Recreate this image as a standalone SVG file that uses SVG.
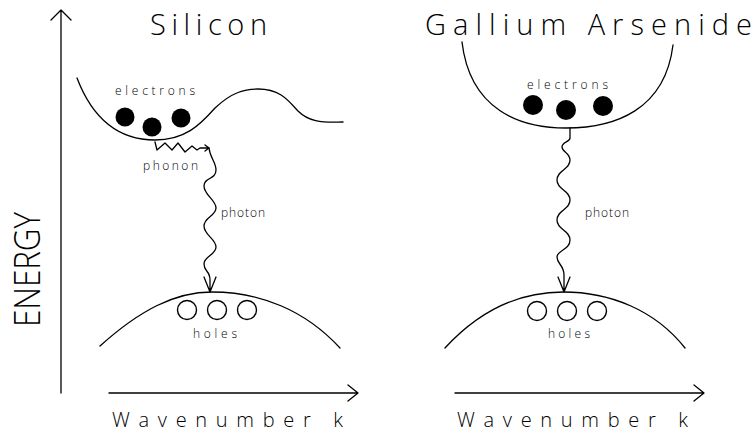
<svg xmlns="http://www.w3.org/2000/svg" width="753" height="435" viewBox="0 0 753 435">
<defs>
<style>
.ln{fill:none;stroke:#000;stroke-width:1.3;stroke-linecap:round;stroke-linejoin:round}
.e{fill:#000}
.h{fill:none;stroke:#000;stroke-width:1.4}
.t{font-family:"Open Sans","DejaVu Sans","Liberation Sans",sans-serif;font-weight:300;fill:#000}
.big{font-size:29px}
.axl{font-size:20px}
.sm{font-size:12px}
</style>
</defs>
<rect width="753" height="435" fill="#fff"/>
<g id="axes">
<g id="energy-axis">
<path class="ln" d="M61,393 L61,10 M51,20 L61,10 L71,20"/>
<text class="t" transform="translate(40,327) rotate(-90)" font-size="36" textLength="115" lengthAdjust="spacingAndGlyphs">ENERGY</text>
</g>
<g id="k-axis-si">
<path class="ln" d="M109,393 L358,393 M348,385 L358,393 L348,401"/>
<text class="t axl" x="112" y="427" textLength="231" lengthAdjust="spacing">Wavenumber k</text>
</g>
<g id="k-axis-gaas">
<path class="ln" d="M455,393 L704,393 M694,385 L704,393 L694,401"/>
<text class="t axl" x="457" y="427" textLength="231" lengthAdjust="spacing">Wavenumber k</text>
</g>
</g>
<g id="title-si"><text class="t big" x="150" y="35" textLength="117" lengthAdjust="spacing">Silicon</text></g>
<g id="title-gaas"><text class="t big" x="425" y="35" textLength="327" lengthAdjust="spacing">Gallium Arsenide</text></g>
<g id="si-conduction">
<path class="ln" d="M77,78 C95,125 125,140 155,140 C185,140 200,125 215,108 C232,92 245,89 258,89 C280,89 288,100 298,111 C308,121 320,123 343,122"/>
<circle class="e" cx="125" cy="117" r="9.5"/>
<circle class="e" cx="152" cy="127" r="9.5"/>
<circle class="e" cx="181" cy="118" r="9.5"/>
<text class="t sm" x="115" y="95" textLength="80" lengthAdjust="spacing">electrons</text>
</g>
<g id="si-valence">
<path class="ln" d="M100,346 C140,310 175,292 212,292 C260,292 305,310 340,348"/>
<circle class="h" cx="187" cy="310" r="9.5"/>
<circle class="h" cx="217" cy="310" r="9.5"/>
<circle class="h" cx="247" cy="310" r="9.5"/>
<text class="t sm" x="193" y="338" textLength="44" lengthAdjust="spacing">holes</text>
</g>
<g id="gaas-conduction">
<path class="ln" d="M462,42 C470,110 520,128 566,128 C615,128 665,110 673,45"/>
<circle class="e" cx="533" cy="105" r="10"/>
<circle class="e" cx="566" cy="110" r="10"/>
<circle class="e" cx="603" cy="106" r="10"/>
<text class="t sm" x="527" y="89" textLength="81" lengthAdjust="spacing">electrons</text>
</g>
<g id="gaas-valence">
<path class="ln" d="M445,348 C480,310 520,292 563,292 C610,292 655,310 685,348"/>
<circle class="h" cx="537" cy="311" r="9.5"/>
<circle class="h" cx="567" cy="311" r="9.5"/>
<circle class="h" cx="597" cy="311" r="9.5"/>
<text class="t sm" x="548" y="338" textLength="42" lengthAdjust="spacing">holes</text>
</g>
<g id="connectors">
<g id="phonon">
<path class="ln" d="M155,142 L157,150 L165,143 L172,150 L178,143 L185,152 L192,146 L197,150 L200,148 L209,148 M205,145 L209,148 L205,151"/>
<text class="t sm" x="143" y="170" textLength="55" lengthAdjust="spacing">phonon</text>
</g>
<g id="photon-si">
<path class="ln" d="M209,148 C210,158 216,162 216,170 C216,180 204,177 204,186 S216,200 216,208 S204,217 204,226 S216,239 216,247 S204,256 204,264 C204,272 210,270 210,280 L210,292 M204,277 L210,292 L216,277"/>
<text class="t sm" x="221" y="217" textLength="44" lengthAdjust="spacing">photon</text>
</g>
<g id="photon-gaas">
<path class="ln" d="M570,128 L570,138 C570,142 562,142 562,147 C562,152 570,153 570,160 C570,170 557,170 557,180 S570,190 570,200 S557,210 557,220 S570,230 570,240 S557,250 557,257 C557,264 564,265 564,275 L564,292 M558,277 L564,292 L570,277"/>
<text class="t sm" x="585" y="217" textLength="44" lengthAdjust="spacing">photon</text>
</g>
</g>
</svg>
